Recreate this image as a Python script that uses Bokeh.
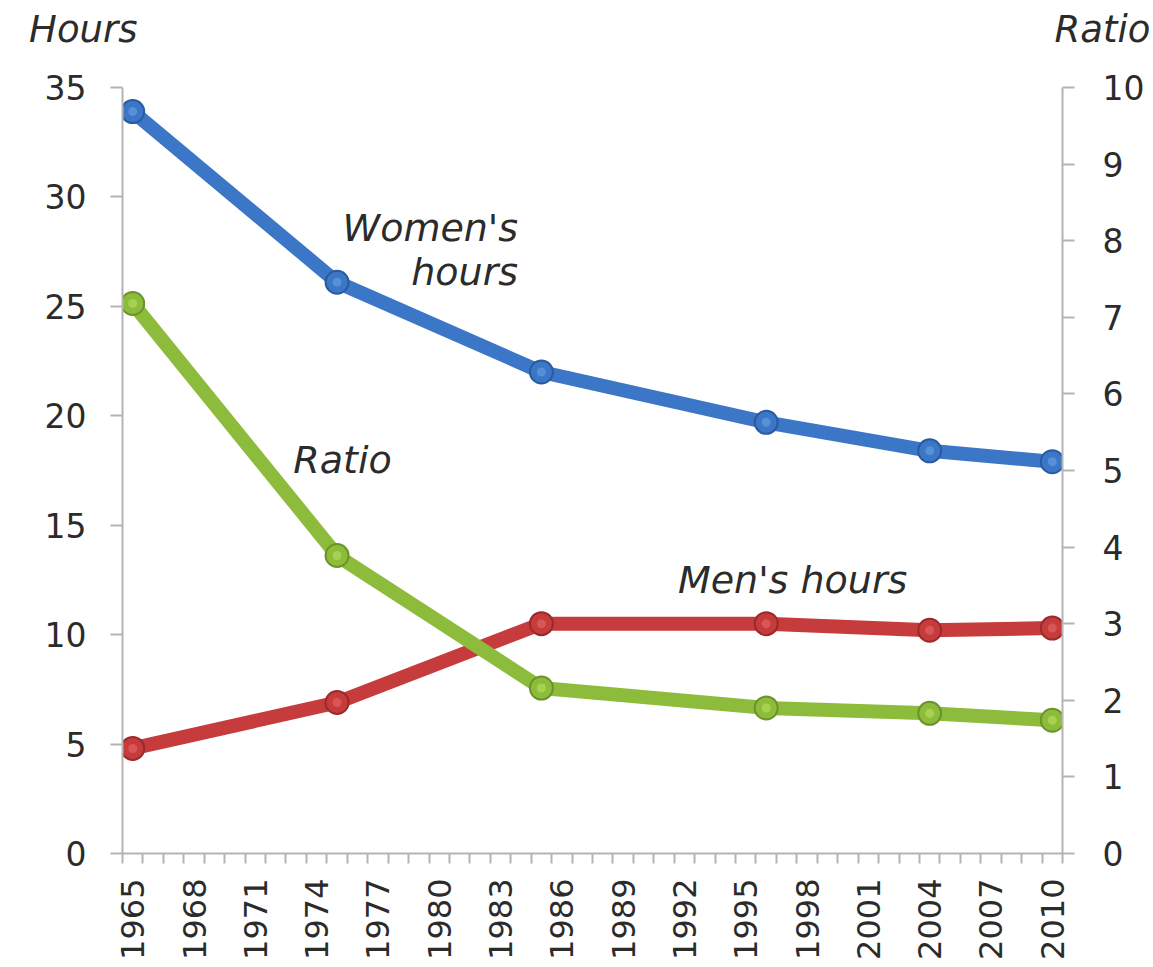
import math
from bokeh.plotting import figure
from bokeh.layouts import column
from bokeh.models import Range1d, LinearAxis, FixedTicker, Label
from bokeh.embed import file_html
from bokeh.resources import INLINE

# ---- data ----
years = [1965, 1975, 1985, 1996, 2004, 2010]
women_hours = [33.9, 26.1, 22.0, 19.7, 18.4, 17.9]
men_hours = [4.8, 6.9, 10.5, 10.5, 10.2, 10.3]
ratio = [7.18, 3.89, 2.16, 1.90, 1.83, 1.74]

x_tick_labels = list(range(1965, 2011, 3))
hours_ticks = [0, 5, 10, 15, 20, 25, 30, 35]
ratio_ticks = list(range(0, 11))

FONT = "DejaVu Sans"
AXIS_GRAY = "#b4b4b4"
TEXT = "#2b2b2b"

BLUE, BLUE_D, BLUE_L = "#3b77c6", "#2a5aa0", "#5a92da"
RED, RED_D, RED_L = "#c63b3b", "#9c2a2a", "#dc5a5a"
GREEN, GREEN_D, GREEN_L = "#8dbc3c", "#6a9428", "#a8d452"

W = 1153
TOP_H = 60
LEFT_B, RIGHT_B = 122, 90

# ---- header strip: the two axis titles, drawn as axis tick labels ----
top = figure(width=W, height=TOP_H, output_backend="svg", toolbar_location=None,
             x_range=Range1d(0, 1), y_range=Range1d(0, TOP_H),
             min_border_left=LEFT_B, min_border_right=RIGHT_B,
             min_border_top=0, min_border_bottom=0,
             x_axis_type=None, y_axis_type=None)
top.outline_line_color = None
top.xgrid.visible = False
top.ygrid.visible = False

TY = TOP_H - 29


def title_axis(text, side, standoff):
    ax = LinearAxis(ticker=FixedTicker(ticks=[TY]),
                    major_label_overrides={TY: text})
    ax.axis_line_color = None
    ax.major_tick_line_color = None
    ax.minor_tick_line_color = None
    ax.major_tick_out = 0
    ax.major_tick_in = 0
    ax.major_label_standoff = standoff
    ax.major_label_text_font = FONT
    ax.major_label_text_font_style = "italic"
    ax.major_label_text_font_size = "37px"
    ax.major_label_text_color = TEXT
    top.add_layout(ax, side)


title_axis("Hours", "left", -15)
title_axis("Ratio", "right", -8)

# ---- main chart ----
p = figure(width=W, height=906, output_backend="svg", toolbar_location=None,
           x_range=Range1d(1964.5, 2010.5), y_range=Range1d(0, 35),
           min_border_left=LEFT_B, min_border_right=RIGHT_B, min_border_top=27,
           min_border_bottom=113)
p.extra_y_ranges = {"ratio": Range1d(0, 10)}
p.outline_line_color = None
p.xgrid.visible = False
p.ygrid.visible = False
p.background_fill_color = "white"
p.border_fill_color = "white"

# x axis
xa = p.xaxis[0]
xa.ticker = FixedTicker(ticks=x_tick_labels,
                        minor_ticks=[y + 0.5 for y in range(1964, 2011)])
xa.major_tick_out = 0
xa.major_tick_in = 0
xa.minor_tick_out = 10
xa.minor_tick_in = 0
xa.minor_tick_line_color = AXIS_GRAY
xa.minor_tick_line_width = 2
xa.axis_line_color = AXIS_GRAY
xa.axis_line_width = 2
xa.major_label_orientation = math.pi / 2
xa.major_label_standoff = 15
xa.major_label_text_font = FONT
xa.major_label_text_font_size = "32px"
xa.major_label_text_color = TEXT

# left axis
ya = p.yaxis[0]
ya.ticker = FixedTicker(ticks=hours_ticks)
ya.major_tick_out = 12
ya.major_tick_in = 0
ya.minor_tick_line_color = None
ya.major_tick_line_color = AXIS_GRAY
ya.major_tick_line_width = 2
ya.axis_line_color = AXIS_GRAY
ya.axis_line_width = 2
ya.major_label_standoff = 24
ya.major_label_text_font = FONT
ya.major_label_text_font_size = "33px"
ya.major_label_text_color = TEXT

# right axis
ra = LinearAxis(y_range_name="ratio", ticker=FixedTicker(ticks=ratio_ticks))
ra.major_tick_out = 12
ra.major_tick_in = 0
ra.minor_tick_line_color = None
ra.major_tick_line_color = AXIS_GRAY
ra.major_tick_line_width = 2
ra.axis_line_color = AXIS_GRAY
ra.axis_line_width = 2
ra.major_label_standoff = 28
ra.major_label_text_font = FONT
ra.major_label_text_font_size = "33px"
ra.major_label_text_color = TEXT
p.add_layout(ra, "right")


# series
def series(ys, col, dark, light, rng=None):
    kw = {} if rng is None else {"y_range_name": rng}
    p.line(years, ys, line_color=col, line_width=14, line_join="round",
           line_cap="round", **kw)
    p.scatter(years, ys, size=23, fill_color=col, line_color=dark,
              line_width=2, **kw)
    p.scatter(years, ys, size=9, fill_color=light, line_color=None,
              fill_alpha=0.9, **kw)


series(women_hours, BLUE, BLUE_D, BLUE_L)
series(men_hours, RED, RED_D, RED_L)
series(ratio, GREEN, GREEN_D, GREEN_L, "ratio")


# in-chart annotations
def lab(x, y, text, align="left"):
    p.add_layout(Label(x=x, y=y, text=text, text_font=FONT,
                       text_font_style="italic", text_font_size="38px",
                       text_color=TEXT, text_align=align,
                       text_baseline="middle"))


lab(1983.86, 28.56, "Women's", align="right")
lab(1983.86, 26.55, "hours", align="right")
lab(1972.86, 17.97, "Ratio")
lab(1991.68, 12.49, "Men's hours")

open("out.html", "w").write(file_html(column(top, p), INLINE))
